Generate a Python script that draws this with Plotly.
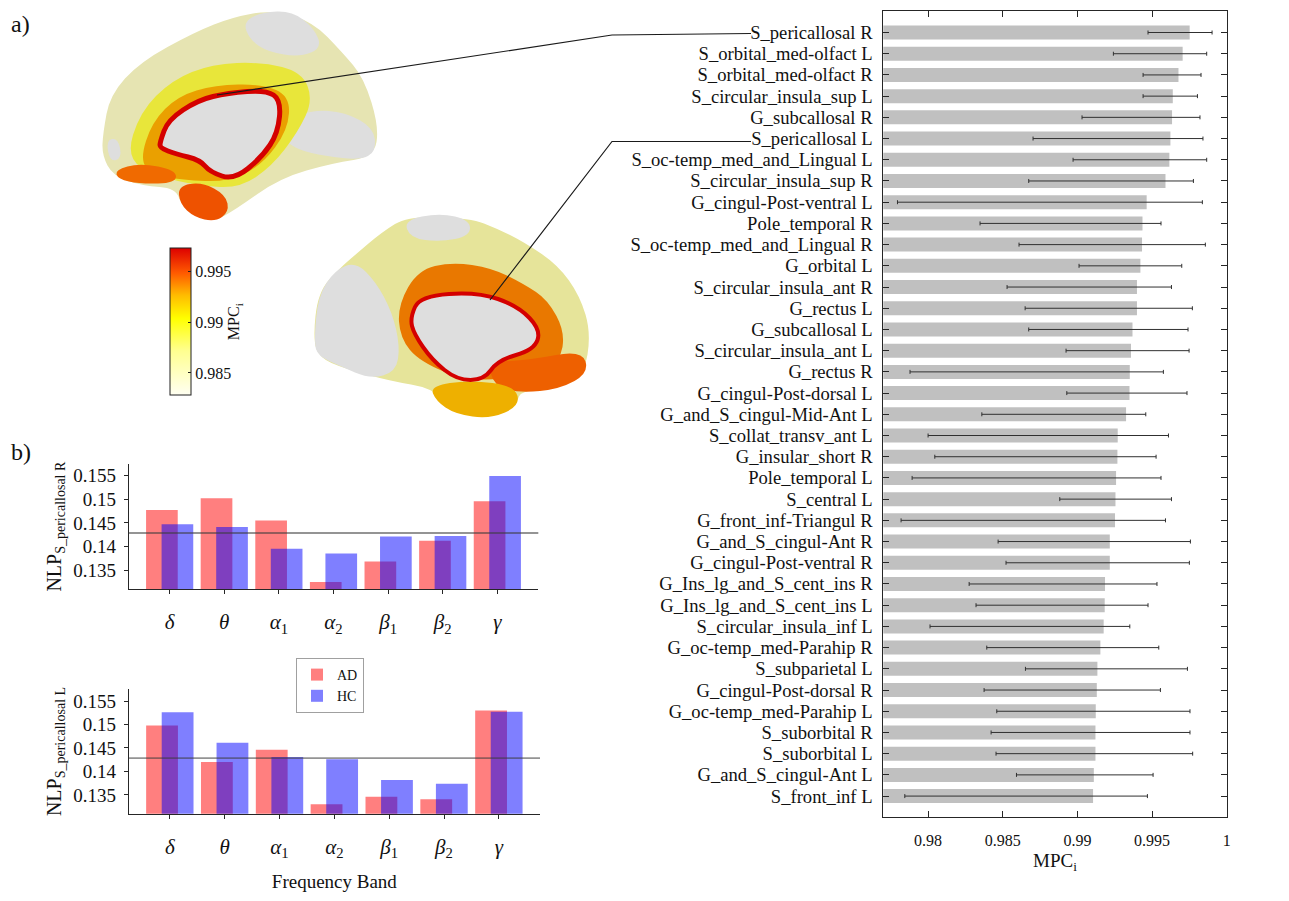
import plotly.graph_objects as go

W, H = 1289, 901          # browser window / reference size
OFF = 8                   # default page margin of the html body
FW, FH = W - OFF, H - OFF # figure size so that it fits the window exactly
FONT = "Liberation Serif"

# ---------------- data ----------------
regions = [
    "S_pericallosal R", "S_orbital_med-olfact L", "S_orbital_med-olfact R",
    "S_circular_insula_sup L", "G_subcallosal R", "S_pericallosal L",
    "S_oc-temp_med_and_Lingual L", "S_circular_insula_sup R", "G_cingul-Post-ventral L",
    "Pole_temporal R", "S_oc-temp_med_and_Lingual R", "G_orbital L",
    "S_circular_insula_ant R", "G_rectus L", "G_subcallosal L",
    "S_circular_insula_ant L", "G_rectus R", "G_cingul-Post-dorsal L",
    "G_and_S_cingul-Mid-Ant L", "S_collat_transv_ant L", "G_insular_short R",
    "Pole_temporal L", "S_central L", "G_front_inf-Triangul R",
    "G_and_S_cingul-Ant R", "G_cingul-Post-ventral R", "G_Ins_lg_and_S_cent_ins R",
    "G_Ins_lg_and_S_cent_ins L", "S_circular_insula_inf L", "G_oc-temp_med-Parahip R",
    "S_subparietal L", "G_cingul-Post-dorsal R", "G_oc-temp_med-Parahip L",
    "S_suborbital R", "S_suborbital L", "G_and_S_cingul-Ant L", "S_front_inf L",
]
mpc_mean = [0.99752, 0.99705, 0.99677, 0.99639, 0.99634, 0.99623, 0.99616, 0.99590,
            0.99464, 0.99436, 0.99433, 0.99422, 0.99399, 0.99399, 0.99369, 0.99359,
            0.99351, 0.99349, 0.99326, 0.99270, 0.99268, 0.99259, 0.99255, 0.99252,
            0.99217, 0.99217, 0.99185, 0.99183, 0.99176, 0.99154, 0.99134, 0.99130,
            0.99123, 0.99121, 0.99121, 0.99110, 0.99105]
mpc_low = [0.99473, 0.99241, 0.99440, 0.99440, 0.99031, 0.98703, 0.98971, 0.98674,
           0.97795, 0.98348, 0.98609, 0.99011, 0.98529, 0.98650, 0.98674, 0.98924,
           0.97879, 0.98929, 0.98360, 0.98000, 0.98045, 0.97893, 0.98882, 0.97819,
           0.98469, 0.98522, 0.98275, 0.98321, 0.98013, 0.98393, 0.98652, 0.98375,
           0.98460, 0.98422, 0.98455, 0.98592, 0.97844]
mpc_high = [0.99902, 0.99866, 0.99828, 0.99804, 0.99821, 0.99841, 0.99866, 0.99777,
            0.99837, 0.99560, 0.99857, 0.99699, 0.99630, 0.99770, 0.99741, 0.99748,
            0.99576, 0.99734, 0.99458, 0.99610, 0.99527, 0.99560, 0.99630, 0.99590,
            0.99757, 0.99750, 0.99533, 0.99473, 0.99351, 0.99545, 0.99737, 0.99556,
            0.99754, 0.99754, 0.99772, 0.99507, 0.99469]
mpc_ticks = [0.98, 0.985, 0.99, 0.995, 1.0]
mpc_ticktext = ["0.98", "0.985", "0.99", "0.995", "1"]

bands = ["<i>δ</i>", "<i>θ</i>", "<i>α</i><sub>1</sub>", "<i>α</i><sub>2</sub>",
         "<i>β</i><sub>1</sub>", "<i>β</i><sub>2</sub>", "<i>γ</i>"]
nlp_R_AD = [0.1477, 0.1502, 0.1455, 0.1325, 0.1368, 0.1412, 0.1496]
nlp_R_HC = [0.1447, 0.1441, 0.1395, 0.1385, 0.1421, 0.1422, 0.1549]
nlp_L_AD = [0.1498, 0.1420, 0.1446, 0.1330, 0.1346, 0.1341, 0.1530]
nlp_L_HC = [0.1526, 0.1461, 0.1431, 0.1426, 0.1382, 0.1374, 0.1527]
nlp_ticks = [0.135, 0.14, 0.145, 0.15, 0.155]
nlp_ticktext = ["0.135", "0.14", "0.145", "0.15", "0.155"]
uniform_level = 1 / 7

cbar_range = [0.9828, 0.9973]
cbar_ticks = [0.985, 0.99, 0.995]

# ---------------- helpers (window pixels -> paper) ----------------
def px(x):
    return (x - OFF) / FW

def py(y):
    return 1 - (y - OFF) / FH

def blob(pts):
    n = len(pts)
    P = [(px(x), py(y)) for x, y in pts]
    mids = [((P[i][0] + P[(i + 1) % n][0]) / 2, (P[i][1] + P[(i + 1) % n][1]) / 2) for i in range(n)]
    d = f"M {mids[-1][0]:.5f},{mids[-1][1]:.5f}"
    for i in range(n):
        d += f" Q {P[i][0]:.5f},{P[i][1]:.5f} {mids[i][0]:.5f},{mids[i][1]:.5f}"
    return d + " Z"

shapes = []

def add_blob(pts, fill, line_color=None, line_width=0):
    shapes.append(dict(type="path", xref="paper", yref="paper", path=blob(pts),
                       fillcolor=fill, layer="below",
                       line=dict(color=line_color or fill, width=line_width)))

# ---------------- figure ----------------
fig = go.Figure()

# right bar chart
fig.add_trace(go.Bar(
    x=mpc_mean, y=regions, orientation="h",
    marker=dict(color="#c0c0c0", line=dict(width=0)), width=0.66,
    error_x=dict(type="data", symmetric=False,
                 array=[h - m for h, m in zip(mpc_high, mpc_mean)],
                 arrayminus=[m - l for m, l in zip(mpc_mean, mpc_low)],
                 color="#303030", thickness=1, width=2),
    xaxis="x", yaxis="y", showlegend=False, hoverinfo="x+y"))

# NLP charts
AD_COL = "rgba(255,0,0,0.5)"
HC_COL = "rgba(0,0,255,0.5)"
for ad, hc, xa, ya, leg in [(nlp_R_AD, nlp_R_HC, "x2", "y2", False),
                            (nlp_L_AD, nlp_L_HC, "x3", "y3", True)]:
    fig.add_trace(go.Bar(x=bands, y=ad, name="AD", marker=dict(color=AD_COL, line=dict(width=0)),
                         width=0.58, offset=-0.432, xaxis=xa, yaxis=ya, showlegend=leg))
    fig.add_trace(go.Bar(x=bands, y=hc, name="HC", marker=dict(color=HC_COL, line=dict(width=0)),
                         width=0.58, offset=-0.148, xaxis=xa, yaxis=ya, showlegend=leg))

# colorbar (dummy marker, invisible)
fig.add_trace(go.Scatter(
    x=[0.5], y=[0.5], mode="markers", xaxis="x4", yaxis="y4", showlegend=False, hoverinfo="skip",
    marker=dict(size=1, opacity=0, color=[0.99], cmin=cbar_range[0], cmax=cbar_range[1],
                colorscale=[[0, "#fffff2"], [0.3, "#ffff90"], [0.52, "#ffff00"],
                            [0.68, "#ffbb00"], [0.83, "#ff5a00"], [1, "#dd0000"]],
                showscale=True,
                colorbar=dict(x=px(169.5), xanchor="left", y=py(321.7), yanchor="middle",
                              len=146.7 / FH, lenmode="fraction", thickness=21, thicknessmode="pixels",
                              xpad=0, ypad=0,
                              outlinecolor="#202020", outlinewidth=1,
                              tickvals=cbar_ticks, ticktext=["0.985", "0.99", "0.995"],
                              ticks="inside", ticklen=3, tickcolor="#202020",
                              tickfont=dict(family=FONT, size=16, color="#111"),
                              title=dict(text="MPC<sub>i</sub>", side="right",
                                         font=dict(family=FONT, size=16, color="#111"))))))

# ---------------- brain illustrations (decorative) ----------------
PALE1 = "#e6e4b2"
GRAY = "#dedede"
YEL = "#e8e63a"
ORA = "#eaa000"
RED = "#d40000"

# brain 1 (top-left)
add_blob([(103, 133), (110, 95), (140, 62), (195, 32), (233, 17), (273, 10), (313, 22), (342, 52),
          (364, 78), (379, 127), (374, 157), (333, 163), (280, 178), (235, 210), (213, 222),
          (182, 208), (176, 188), (143, 186), (113, 176), (102, 155)], PALE1)
add_blob([(243, 22), (262, 12), (292, 11), (314, 28), (322, 48), (300, 57), (268, 52), (250, 40)], GRAY)
add_blob([(282, 122), (312, 110), (345, 112), (374, 128), (376, 152), (360, 160), (325, 156),
          (298, 150), (282, 138)], GRAY)
add_blob([(106, 140), (118, 138), (122, 158), (110, 162)], GRAY)
add_blob([(126, 158), (140, 112), (172, 80), (212, 64), (262, 62), (302, 72), (313, 100),
          (298, 132), (272, 166), (240, 188), (200, 186), (156, 176)], YEL)
add_blob([(140, 160), (152, 122), (178, 96), (215, 85), (262, 84), (290, 96), (288, 130),
          (262, 165), (228, 182), (182, 180), (152, 174)], ORA)
add_blob([(115, 170), (140, 163), (176, 170), (176, 183), (140, 184), (118, 179)], "#f06a00")
add_blob([(178, 186), (202, 182), (226, 195), (229, 212), (215, 222), (194, 217), (180, 204)], "#ee5200")
add_blob([(160, 142), (168, 120), (198, 100), (228, 93), (266, 90), (281, 100), (278, 133),
          (262, 157), (234, 180), (210, 172), (200, 160), (176, 154), (160, 148)], GRAY, RED, 5)

# brain 2 (middle)
PALE2 = "#e6e49a"
add_blob([(313, 340), (318, 292), (340, 268), (355, 255), (382, 232), (408, 216), (470, 218),
          (498, 229), (524, 242), (558, 265), (580, 296), (591, 333), (584, 376), (545, 388),
          (519, 392), (516, 408), (483, 418), (450, 408), (432, 388), (390, 381), (343, 368),
          (320, 358)], PALE2)
add_blob([(314, 342), (318, 296), (335, 270), (356, 262), (376, 282), (392, 312), (400, 346),
          (396, 372), (370, 379), (340, 366), (318, 356)], GRAY)
add_blob([(404, 220), (440, 213), (470, 220), (470, 236), (440, 242), (410, 238)], GRAY)
add_blob([(398, 305), (418, 270), (452, 262), (492, 268), (524, 284), (548, 300), (565, 332),
          (560, 362), (532, 375), (470, 382), (420, 362), (400, 338)], "#e97800")
add_blob([(488, 362), (530, 360), (582, 350), (589, 373), (560, 389), (520, 393), (494, 386)], "#ee6000")
add_blob([(430, 386), (470, 380), (515, 386), (520, 406), (490, 419), (455, 414), (436, 401)], "#eeb000")
add_blob([(410, 318), (420, 296), (478, 292), (518, 306), (541, 330), (534, 350), (498, 360),
          (484, 380), (457, 380), (432, 360), (414, 334)], GRAY, RED, 4)

# connector lines
for pts in [[(217, 95), (612, 35), (751, 33.5)], [(490, 300), (612, 141.5), (751, 141.5)]]:
    d = "M " + " L ".join(f"{px(x):.5f},{py(y):.5f}" for x, y in pts)
    shapes.append(dict(type="path", xref="paper", yref="paper", path=d,
                       line=dict(color="#1a1a1a", width=1.2), layer="above"))

# mean (uniform) reference lines on NLP charts
for xr, yr in [("x2", "y2"), ("x3", "y3")]:
    shapes.append(dict(type="line", xref=f"{xr} domain", yref=yr, x0=0, x1=1,
                       y0=uniform_level, y1=uniform_level,
                       line=dict(color="rgba(60,60,60,0.55)", width=1.8), layer="above"))

AX = "#262626"
tickfont_r = dict(family=FONT, size=16, color="#111")
nlp_axis_common = dict(showline=True, linecolor=AX, linewidth=1, ticks="outside", ticklen=4,
                       tickcolor=AX, showgrid=False, zeroline=False, automargin=False)

fig.update_layout(
    width=FW, height=FH, margin=dict(l=0, r=0, t=0, b=0, autoexpand=False),
    paper_bgcolor="white", plot_bgcolor="rgba(0,0,0,0)",
    font=dict(family=FONT, color="#111"),
    barmode="overlay", shapes=shapes,
    xaxis=dict(domain=[px(883.3), px(1226.7)], anchor="y", range=[0.977, 1.0],
               tickvals=mpc_ticks, ticktext=mpc_ticktext, tickfont=tickfont_r,
               showline=True, mirror="ticks", linecolor=AX, linewidth=1,
               ticks="inside", ticklen=6, tickcolor=AX, showgrid=False, zeroline=False,
               ticklabelstandoff=8, automargin=False,
               title=dict(text="MPC<sub>i</sub>", font=dict(family=FONT, size=19), standoff=6)),
    yaxis=dict(domain=[py(817.3), py(11.3)], anchor="x", type="category",
               categoryorder="array", categoryarray=regions, range=[37, -1],
               tickmode="array", tickvals=regions, ticktext=regions,
               tickfont=dict(family=FONT, size=18.6, color="#111"),
               showline=True, mirror="ticks", linecolor=AX, linewidth=1,
               ticks="inside", ticklen=6, tickcolor=AX, showgrid=False, zeroline=False,
               ticklabelstandoff=6, automargin=False),
    xaxis2=dict(domain=[px(128.7), px(538.3)], anchor="y2", range=[-0.75, 6.75],
                tickfont=dict(family=FONT, size=21), ticklabelstandoff=10, **nlp_axis_common),
    yaxis2=dict(domain=[py(589), py(464.3)], anchor="x2", range=[0.131, 0.1574],
                tickvals=nlp_ticks, ticktext=nlp_ticktext,
                tickfont=dict(family=FONT, size=19), ticklabelstandoff=4,
                title=dict(text="NLP<sub>S_pericallosal R</sub>", font=dict(family=FONT, size=20),
                           standoff=6),
                **nlp_axis_common),
    xaxis3=dict(domain=[px(128.7), px(540)], anchor="y3", range=[-0.75, 6.75],
                tickfont=dict(family=FONT, size=21), ticklabelstandoff=10,
                title=dict(text="Frequency Band", font=dict(family=FONT, size=19), standoff=14),
                **nlp_axis_common),
    yaxis3=dict(domain=[py(813.7), py(689.3)], anchor="x3", range=[0.131, 0.1575],
                tickvals=nlp_ticks, ticktext=nlp_ticktext,
                tickfont=dict(family=FONT, size=19), ticklabelstandoff=4,
                title=dict(text="NLP<sub>S_pericallosal L</sub>", font=dict(family=FONT, size=20),
                           standoff=6),
                **nlp_axis_common),
    xaxis4=dict(domain=[0, 0.01], range=[0, 1], visible=False, anchor="y4"),
    yaxis4=dict(domain=[0, 0.01], range=[0, 1], visible=False, anchor="x4"),
    legend=dict(x=px(296), y=py(658), xanchor="left", yanchor="top",
                bgcolor="white", bordercolor="#a0a0a0", borderwidth=1,
                font=dict(family=FONT, size=14), tracegroupgap=0),
    annotations=[
        dict(text="a)", x=px(9), y=py(24), xref="paper", yref="paper", xanchor="left",
             yanchor="middle", showarrow=False, font=dict(family=FONT, size=24)),
        dict(text="b)", x=px(9), y=py(452), xref="paper", yref="paper", xanchor="left",
             yanchor="middle", showarrow=False, font=dict(family=FONT, size=24)),
    ],
)

fig.write_html("out.html")
